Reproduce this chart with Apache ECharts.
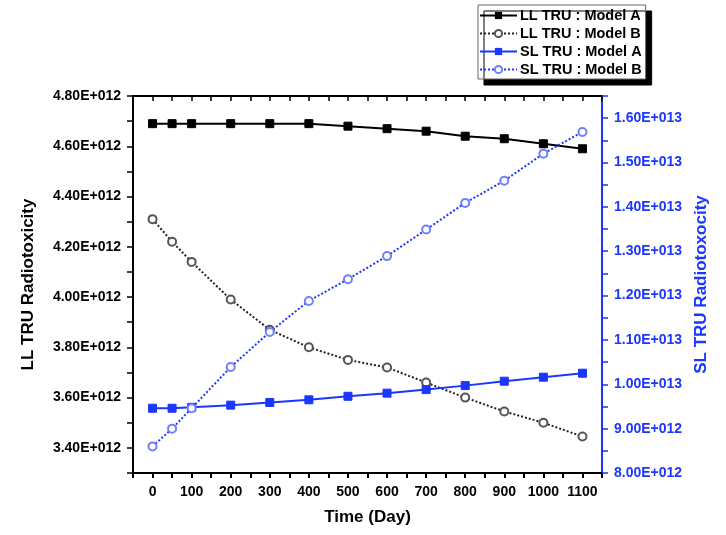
<!DOCTYPE html>
<html>
<head>
<meta charset="utf-8">
<script src="https://cdn.jsdelivr.net/npm/echarts@6/dist/echarts.min.js"></script>
<style>html,body{margin:0;padding:0;background:#fff;}#c{width:726px;height:535px;}</style>
</head>
<body>
<div id="c"></div>
<script>
var days = [0, 50, 100, 200, 300, 400, 500, 600, 700, 800, 900, 1000, 1100];
var llModelA = [4.69e12, 4.69e12, 4.69e12, 4.69e12, 4.69e12, 4.69e12, 4.68e12, 4.67e12, 4.66e12, 4.64e12, 4.63e12, 4.61e12, 4.59e12];
var llModelB = [4.31e12, 4.22e12, 4.14e12, 3.99e12, 3.87e12, 3.80e12, 3.75e12, 3.72e12, 3.66e12, 3.60e12, 3.545e12, 3.50e12, 3.445e12];
var slModelA = [9.46e12, 9.46e12, 9.48e12, 9.53e12, 9.59e12, 9.65e12, 9.73e12, 9.80e12, 9.88e12, 9.97e12, 1.007e13, 1.016e13, 1.025e13];
var slModelB = [8.60e12, 9.00e12, 9.46e12, 1.039e13, 1.118e13, 1.188e13, 1.237e13, 1.289e13, 1.349e13, 1.409e13, 1.459e13, 1.520e13, 1.569e13];
var seriesNames = ['LL TRU : Model A', 'LL TRU : Model B', 'SL TRU : Model A', 'SL TRU : Model B'];
var xTitle = 'Time (Day)';
var leftTitle = 'LL TRU Radiotoxicity';
var rightTitle = 'SL TRU Radiotoxocity';

var BLUE = '#1a36ff';
var FONT = '"Liberation Sans", Arial, sans-serif';

function pairs(ys) { return days.map(function (d, i) { return [d, ys[i]]; }); }
function sci(v) {
  var e = Math.floor(Math.log10(v) + 1e-9);
  var m = v / Math.pow(10, e);
  if (m >= 9.995) { m = m / 10; e += 1; }
  return m.toFixed(2) + 'E+' + String(e).padStart(3, '0');
}

var chart = echarts.init(document.getElementById('c'), null, {renderer: 'canvas'});
chart.setOption({
  animation: false,
  backgroundColor: '#fff',
  textStyle: {fontFamily: FONT},
  grid: {left: 133, right: 124, top: 96, bottom: 62},
  legend: {
    data: seriesNames,
    orient: 'vertical',
    left: 478, top: 5,
    padding: [3, 4, 2, 1],
    itemGap: 3,
    itemWidth: 37, itemHeight: 9,
    backgroundColor: '#fff',
    borderColor: '#666', borderWidth: 1,
    shadowColor: '#000', shadowBlur: 0, shadowOffsetX: 6, shadowOffsetY: 6,
    textStyle: {fontFamily: FONT, fontWeight: 'bold', fontSize: 14.5, color: '#000', lineHeight: 14, padding: [0, 0, 0, -2]}
  },
  xAxis: [{
    type: 'value', position: 'bottom', min: -50, max: 1150, interval: 50,
    name: xTitle, nameLocation: 'middle', nameGap: 36,
    nameTextStyle: {fontFamily: FONT, fontWeight: 'bold', fontSize: 17, color: '#000'},
    axisLine: {show: true, onZero: false, lineStyle: {color: '#000', width: 2}},
    axisTick: {show: true, inside: false, length: 5, lineStyle: {color: '#000', width: 2}},
    axisLabel: {margin: 12, fontFamily: FONT, fontWeight: 'bold', fontSize: 14, color: '#000',
      showMinLabel: true, showMaxLabel: true,
      formatter: function (v) { var r = Math.round(v); return (r >= 0 && r <= 1100 && r % 100 === 0) ? String(r) : ''; }},
    splitLine: {show: false}
  }, {
    type: 'value', position: 'top', min: -50, max: 1150, interval: 50,
    axisLine: {show: true, onZero: false, lineStyle: {color: '#000', width: 2}},
    axisTick: {show: true, inside: true, length: 5, lineStyle: {color: '#000', width: 1.5}},
    axisLabel: {show: false},
    splitLine: {show: false}
  }],
  yAxis: [{
    type: 'value', position: 'left', min: 3.3e12, max: 4.8e12, interval: 0.1e12,
    name: leftTitle, nameLocation: 'middle', nameGap: 96, nameRotate: 90,
    nameTextStyle: {fontFamily: FONT, fontWeight: 'bold', fontSize: 17, color: '#000'},
    axisLine: {show: true, onZero: false, lineStyle: {color: '#000', width: 2}},
    axisTick: {show: true, inside: false, length: 6, lineStyle: {color: '#000', width: 1.5}},
    axisLabel: {margin: 12, fontFamily: FONT, fontWeight: 'bold', fontSize: 14, color: '#000',
      showMinLabel: true, showMaxLabel: true,
      formatter: function (v) { var k = Math.round(v / 1e11); return (k % 2 === 0) ? sci(k * 1e11) : ''; }},
    splitLine: {show: false}
  }, {
    type: 'value', position: 'right', min: 0.8e13, max: 1.65e13, interval: 0.05e13,
    name: rightTitle, nameLocation: 'middle', nameGap: 88, nameRotate: 90,
    nameTextStyle: {fontFamily: FONT, fontWeight: 'bold', fontSize: 17, color: BLUE},
    axisLine: {show: true, onZero: false, lineStyle: {color: BLUE, width: 2}},
    axisTick: {show: true, inside: false, length: 6, lineStyle: {color: BLUE, width: 1.5}},
    axisLabel: {margin: 12, fontFamily: FONT, fontWeight: 'bold', fontSize: 14, color: BLUE,
      showMinLabel: true, showMaxLabel: true,
      formatter: function (v) { var k = Math.round(v / 5e11); return (k % 2 === 0) ? sci(k * 5e11) : ''; }},
    splitLine: {show: false}
  }],
  series: [{
    name: seriesNames[0], type: 'line', xAxisIndex: 0, yAxisIndex: 0, data: pairs(llModelA),
    symbol: 'rect', symbolSize: 8,
    lineStyle: {color: '#000', width: 2, type: 'solid'},
    itemStyle: {color: '#000', borderColor: '#000'}
  }, {
    name: seriesNames[1], type: 'line', xAxisIndex: 0, yAxisIndex: 0, data: pairs(llModelB),
    symbol: 'emptyCircle', symbolSize: 8,
    lineStyle: {color: '#222', width: 2, type: 'dotted'},
    itemStyle: {color: '#555', borderColor: '#555', borderWidth: 1.2}
  }, {
    name: seriesNames[2], type: 'line', xAxisIndex: 0, yAxisIndex: 1, data: pairs(slModelA),
    symbol: 'rect', symbolSize: 8,
    lineStyle: {color: BLUE, width: 2, type: 'solid'},
    itemStyle: {color: BLUE, borderColor: BLUE}
  }, {
    name: seriesNames[3], type: 'line', xAxisIndex: 0, yAxisIndex: 1, data: pairs(slModelB),
    symbol: 'emptyCircle', symbolSize: 8,
    lineStyle: {color: BLUE, width: 2, type: 'dotted'},
    itemStyle: {color: '#6f7fff', borderColor: '#6f7fff', borderWidth: 1.2}
  }]
});
</script>
</body>
</html>
